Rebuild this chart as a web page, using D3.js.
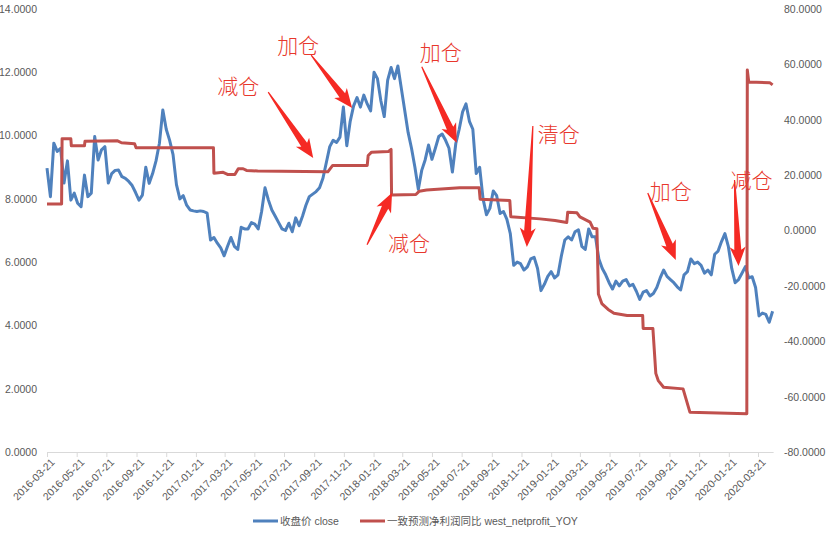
<!DOCTYPE html>
<html><head><meta charset="utf-8">
<script src="https://cdn.jsdelivr.net/npm/d3@7/dist/d3.min.js"></script>
<style>body{margin:0;background:#fff}svg{display:block}</style>
</head><body><svg id="c" width="827" height="538"></svg>
<script>
// ---------- data ----------
const closeStart = "2016-03-21";           // weekly closes starting this Monday
const closeWeekly = [
8.97,8.07,9.76,9.5,9.6,8.5,9.2,7.96,8.18,7.86,7.75,8.75,8.07,8.18,9.97,9.23,9.55,9.65,8.5,8.8,
8.9,8.91,8.7,8.65,8.55,8.42,8.2,7.96,8.12,9.0,8.49,8.8,9.2,9.76,10.81,10.2,9.85,9.4,8.45,8.0,
8.1,7.8,7.65,7.62,7.6,7.62,7.6,7.55,6.7,6.78,6.6,6.45,6.2,6.5,6.78,6.5,6.4,7.1,7.05,7.05,
7.25,7.2,7.05,7.6,8.35,7.96,7.65,7.45,7.25,7.05,7.0,7.23,6.96,7.4,7.15,7.45,7.8,8.07,8.15,8.23,
8.35,8.65,9.15,9.65,9.85,9.78,9.95,10.9,9.68,10.45,10.94,11.2,10.9,11.28,11.0,10.78,12.0,11.8,11.1,10.6,
11.75,12.15,11.8,12.2,11.5,10.8,10.1,9.6,9.0,8.3,8.9,9.23,9.7,9.25,9.6,9.97,10.05,9.85,9.6,8.85,
9.75,10.2,10.75,11.0,10.45,10.2,8.8,9.0,8.0,7.5,7.7,8.25,8.1,7.54,7.6,7.35,6.9,5.9,6.0,5.95,
5.75,5.85,6.1,6.15,5.8,5.1,5.3,5.55,5.7,5.5,5.6,6.2,6.7,6.8,6.7,6.96,7.02,6.5,6.4,7.05,
6.8,6.8,6.1,5.8,5.6,5.35,5.15,5.4,5.25,5.4,5.45,5.25,5.3,5.08,4.82,5.05,5.1,4.93,5.01,5.2,
5.5,5.75,5.55,5.45,5.35,5.22,5.12,5.6,5.7,6.1,5.95,6.0,5.9,5.65,5.75,5.6,6.25,6.35,6.65,6.9,
6.5,5.8,5.35,5.45,5.65,5.86,5.5,5.54,5.2,4.3,4.39,4.35,4.1,4.45
];
const yoyDates = [
"2016-03-21","2016-04-20","2016-04-21","2016-05-09","2016-05-10","2016-06-06","2016-06-07","2016-08-13",
"2016-08-21","2016-09-17","2016-09-20","2017-02-26","2017-02-27","2017-03-18","2017-03-28","2017-04-11",
"2017-04-18","2017-04-28","2017-05-05","2017-05-28","2017-10-19","2017-10-29","2018-01-08","2018-01-10",
"2018-01-17","2018-02-20","2018-02-26","2018-02-27","2018-04-18","2018-04-25","2018-05-10","2018-07-17",
"2018-08-26","2018-08-28","2018-10-28","2018-10-30","2018-12-29","2019-01-29","2019-02-22","2019-02-24",
"2019-03-15","2019-03-21","2019-04-11","2019-04-17","2019-04-25","2019-04-28","2019-05-05","2019-05-18",
"2019-05-30","2019-06-26","2019-07-28","2019-07-29","2019-08-18","2019-08-24","2019-08-29","2019-09-09",
"2019-10-19","2019-10-27","2019-11-02","2020-02-27","2020-02-28","2020-03-02","2020-04-14","2020-04-20"
];
const yoyValues = [
9.6,9.6,33.1,33.1,30.6,30.6,32.2,32.4,
31.7,31.3,29.9,29.9,20.7,21.0,20.2,20.2,
22.3,22.3,21.7,21.5,21.2,23.5,23.5,27.1,
28.3,28.5,29.3,12.8,13.0,14.2,14.6,15.4,
15.4,11.3,10.8,5.0,4.2,3.6,2.9,6.6,
6.4,4.9,3.0,0.8,0.6,-22.9,-26.4,-28.5,
-29.9,-30.7,-30.7,-35.4,-35.4,-51.6,-54.2,-56.6,
-57.2,-62.0,-65.6,-66.2,58.0,53.6,53.4,52.6
];
const xTickDates = [
"2016-03-21","2016-05-21","2016-07-21","2016-09-21","2016-11-21","2017-01-21","2017-03-21",
"2017-05-21","2017-07-21","2017-09-21","2017-11-21","2018-01-21","2018-03-21","2018-05-21",
"2018-07-21","2018-09-21","2018-11-21","2019-01-21","2019-03-21","2019-05-21","2019-07-21",
"2019-09-21","2019-11-21","2020-01-21","2020-03-21"
];
const xDomain = ["2016-03-21","2020-04-21"];
const leftTicks = [0,2,4,6,8,10,12,14];
const rightTicks = [-80,-60,-40,-20,0,20,40,60,80];
const seriesNames = ["收盘价 close","一致预测净利润同比 west_netprofit_YOY"];
// annotations: arrow tip anchored at (date, close value)
const notes = [
  {label:"减仓", date:"2017-09-19", value:9.29,  tail:[-45,-66], text:[-96,-64]},
  {label:"加仓", date:"2017-12-08", value:10.87, tail:[-41,-53], text:[-75,-55]},
  {label:"加仓", date:"2018-07-11", value:9.77,  tail:[-35,-76], text:[-37,-83]},
  {label:"减仓", date:"2018-02-28", value:8.19,  tail:[-25,52],  text:[-4,58]},
  {label:"清仓", date:"2018-12-02", value:6.48,  tail:[6,-121],  text:[11,-105]},
  {label:"加仓", date:"2019-10-04", value:6.07,  tail:[-28,-67], text:[-26,-61]},
  {label:"减仓", date:"2020-02-10", value:5.88,  tail:[-4,-86],  text:[-8,-78]}
];

// ---------- layout ----------
const parse = d3.utcParse("%Y-%m-%d");
const fmt4 = v => v.toFixed(4);
const C_BLUE = "#4f81bd", C_RED = "#c0504d", C_TXT = "#595959";
const FONT = "'Liberation Sans','Noto Sans CJK SC',sans-serif";
const svg = d3.select("#c");

const x = d3.scaleUtc().domain(xDomain.map(parse)).range([47, 773.1]);
const yL = d3.scaleLinear().domain([0, 14]).range([452, 9]);
const yR = d3.scaleLinear().domain([-80, 80]).range([452, 9]);

const t0 = parse(closeStart);
const closeData = closeWeekly.map((v, i) => ({d: d3.utcDay.offset(t0, 7 * i), v}));
const yoyData = yoyDates.map((s, i) => ({d: parse(s), v: yoyValues[i]}));

// x axis
const xAxis = d3.axisBottom(x).tickValues(xTickDates.map(parse)).tickSize(5).tickSizeOuter(0).tickFormat(d3.utcFormat("%Y-%m-%d"));
const gx = svg.append("g").attr("transform", "translate(0,452)").call(xAxis);
gx.select(".domain").attr("stroke", "#d9d9d9").attr("stroke-width", 1);
gx.selectAll(".tick line").attr("stroke", "#d9d9d9");
gx.selectAll(".tick text")
  .attr("fill", C_TXT).attr("font-size", 10.5).attr("font-family", FONT)
  .attr("text-anchor", "end").attr("dy", 0)
  .attr("transform", "translate(3,6) rotate(-45)")
  .attr("y", 7).attr("x", 0);

// left axis
const gl = svg.append("g").attr("transform", "translate(37,0)")
  .call(d3.axisLeft(yL).tickValues(leftTicks).tickSize(0).tickPadding(0).tickFormat(fmt4));
gl.select(".domain").remove();
gl.selectAll("text").attr("fill", C_TXT).attr("font-size", 10.5).attr("font-family", FONT);

// right axis
const gr = svg.append("g").attr("transform", "translate(784,0)")
  .call(d3.axisRight(yR).tickValues(rightTicks).tickSize(0).tickPadding(0).tickFormat(fmt4));
gr.select(".domain").remove();
gr.selectAll("text").attr("fill", C_TXT).attr("font-size", 10.5).attr("font-family", FONT);

// lines
svg.append("path").datum(closeData)
  .attr("fill", "none").attr("stroke", C_BLUE).attr("stroke-width", 3).attr("stroke-linejoin", "round")
  .attr("d", d3.line().x(d => x(d.d)).y(d => yL(d.v)));
svg.append("path").datum(yoyData)
  .attr("fill", "none").attr("stroke", C_RED).attr("stroke-width", 3).attr("stroke-linejoin", "round")
  .attr("d", d3.line().x(d => x(d.d)).y(d => yR(d.v)));

// annotations
function arrowPath(T, P) {
  const dx = P[0] - T[0], dy = P[1] - T[1], L = Math.hypot(dx, dy);
  const ux = dx / L, uy = dy / L, nx = -uy, ny = ux;
  const hl = 16, wb = 8, wn = 3.5, wt = 0.6;
  const pt = (a, b) => [P[0] - ux * a + nx * b, P[1] - uy * a + ny * b];
  const pts = [[T[0] + nx * wt, T[1] + ny * wt], pt(hl, wn), pt(hl + 3, wb), P, pt(hl + 3, -wb), pt(hl, -wn), [T[0] - nx * wt, T[1] - ny * wt]];
  return "M" + pts.map(p => p.join(",")).join("L") + "Z";
}
const ga = svg.append("g");
notes.forEach(n => {
  const P = [x(parse(n.date)), yL(n.value)];
  const T = [P[0] + n.tail[0], P[1] + n.tail[1]];
  ga.append("path").attr("d", arrowPath(T, P)).attr("fill", "#f52a24");
  ga.append("text").attr("x", P[0] + n.text[0]).attr("y", P[1] + n.text[1])
    .attr("font-family", "'Noto Sans CJK SC',sans-serif").attr("font-weight", 300)
    .attr("font-size", 21).attr("fill", "#e8372c").text(n.label);
});

// legend
const lg = svg.append("g").attr("font-family", FONT).attr("font-size", 10.5).attr("fill", C_TXT);
[[253, C_BLUE], [360, C_RED]].forEach(([lx, col], i) => {
  lg.append("line").attr("x1", lx).attr("x2", lx + 25).attr("y1", 521).attr("y2", 521)
    .attr("stroke", col).attr("stroke-width", 3);
  lg.append("text").attr("x", lx + 27).attr("y", 525).text(seriesNames[i]);
});
</script></body></html>
